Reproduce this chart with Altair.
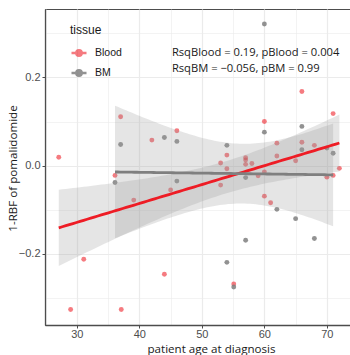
import numpy as np
import pandas as pd
import altair as alt

# ---- data ----
blood_age = [27.1, 29.0, 31.1, 36.1, 37.0, 37.1, 39.1, 42.0, 44.0, 45.0, 46.0, 53.0, 53.0,
             54.0, 54.0, 55.1, 57.0, 57.0, 57.0, 58.0, 59.0, 60.0, 60.0, 60.0, 61.0, 62.0,
             62.0, 65.0, 66.0, 66.0, 68.0, 70.0, 71.0, 71.0, 72.0]
blood_val = [0.019, -0.326, -0.212, -0.022, 0.111, -0.326, -0.078, 0.058, -0.246, -0.055,
             0.079, 0.006, -0.044, 0.024, -0.007, -0.268, 0.018, 0.013, 0.003, 0.005,
             -0.023, 0.100, -0.014, -0.069, -0.084, 0.051, 0.022, 0.011, 0.168, 0.053,
             0.046, -0.026, 0.118, -0.022, -0.006]
bm_age = [36.1, 37.0, 44.0, 46.0, 46.0, 54.0, 54.0, 55.1, 57.0, 57.0, 60.0, 60.0, 62.0,
          65.0, 66.0, 66.0, 68.0, 70.0, 71.0]
bm_val = [-0.038, 0.048, 0.064, 0.055, -0.035, 0.046, -0.219, -0.275, -0.027, -0.169,
          0.321, 0.076, -0.099, -0.120, 0.089, 0.036, -0.165, 0.040, 0.028]

tissues = ["Blood", "BM"]
line_colors = ["#EE1C25", "#7F7F7F"]
point_opacity = [0.58, 0.85]

ann_text = ["RsqBlood = 0.19, pBlood = 0.004", "RsqBM = \u22120.056, pBM = 0.99"]
ann_x = [45.2, 45.2]
ann_y = [0.255, 0.219]

x_ticks = [25, 30, 35, 40, 45, 50, 55, 60, 65, 70]
y_ticks = [-0.3, -0.2, -0.1, 0.0, 0.1, 0.2, 0.3]


def t_quantile(df, z=1.959964):
    return (z + (z**3 + z) / (4 * df) + (5 * z**5 + 16 * z**3 + 3 * z) / (96 * df**2)
            + (3 * z**7 + 19 * z**5 + 17 * z**3 - 15 * z) / (384 * df**3))


def lm_band(xs, ys, name, n=80):
    x = np.asarray(xs, float)
    y = np.asarray(ys, float)
    k = len(x)
    b, a = np.polyfit(x, y, 1)
    xg = np.linspace(x.min(), x.max(), n)
    yh = a + b * xg
    res = y - (a + b * x)
    s = np.sqrt(np.sum(res**2) / (k - 2))
    se = s * np.sqrt(1 / k + (xg - x.mean())**2 / np.sum((x - x.mean())**2))
    t = t_quantile(k - 2)
    return pd.DataFrame({"age": xg, "fit": yh, "lo": yh - t * se, "hi": yh + t * se,
                         "tissue": name})


pts = pd.concat([
    pd.DataFrame({"age": blood_age, "val": blood_val, "tissue": "Blood"}),
    pd.DataFrame({"age": bm_age, "val": bm_val, "tissue": "BM"}),
])
fits = pd.concat([lm_band(blood_age, blood_val, "Blood"), lm_band(bm_age, bm_val, "BM")])
ann = pd.DataFrame({"x": ann_x, "y": ann_y, "t": ann_text})

xscale = alt.Scale(domain=[24.9, 73.7], nice=False, zero=False)
yscale = alt.Scale(domain=[-0.361, 0.355], nice=False, zero=False)
cscale = alt.Scale(domain=tissues, range=line_colors)

major_x = "round(datum.value) % 10 == 0"
major_y = "abs(round(datum.value * 10)) % 2 == 0"

xaxis = alt.Axis(
    values=x_ticks, title="patient age at diagnosis",
    labelExpr=f"{major_x} ? datum.label : ''",
    tickOpacity={"condition": {"test": major_x, "value": 1}, "value": 0},
    gridWidth={"condition": {"test": major_x, "value": 1.2}, "value": 0.6},
    labelPadding=0,
    titleX=166, titleY=27, titleBaseline="alphabetic", titleAlign="center",
)
yaxis = alt.Axis(
    values=y_ticks, title="1-RBF of pomalidomide", format=".1f",
    labelExpr=f"{major_y} ? datum.label : ''",
    tickOpacity={"condition": {"test": major_y, "value": 1}, "value": 0},
    gridWidth={"condition": {"test": major_y, "value": 1.2}, "value": 0.6},
    titleX=-32, titleY=159, titleBaseline="middle", titleAlign="center", titleAngle=270,
)

legend = alt.Legend(
    orient="none", legendX=25, legendY=16, title="tissue", padding=0,
    titleFontSize=12, titleFont="Liberation Sans", titleFontWeight="normal",
    titleColor="#1A1A1A", titlePadding=7,
    labelFontSize=10.5, labelFont="Liberation Sans", labelColor="#1A1A1A", labelOffset=7,
    symbolType="M-1,0L1,0M0.35,0A0.35,0.35,0,1,1,-0.35,0A0.35,0.35,0,1,1,0.35,0Z",
    symbolSize=225, symbolStrokeWidth=2.6, symbolOpacity=1, rowPadding=3,
)

points = alt.Chart(pts).mark_circle(size=24).encode(
    x=alt.X("age:Q", scale=xscale, axis=xaxis),
    y=alt.Y("val:Q", scale=yscale, axis=yaxis),
    color=alt.Color("tissue:N", scale=cscale, legend=legend),
    opacity=alt.Opacity("tissue:N", scale=alt.Scale(domain=tissues, range=point_opacity),
                        legend=None),
)

bands = alt.Chart(fits).mark_area(color="#999999", opacity=0.26).encode(
    x=alt.X("age:Q", scale=xscale, axis=xaxis),
    y=alt.Y("lo:Q", scale=yscale, axis=yaxis),
    y2="hi:Q",
    detail="tissue:N",
)

lines = alt.Chart(fits).mark_line(strokeWidth=2.8).encode(
    x=alt.X("age:Q", scale=xscale, axis=xaxis),
    y=alt.Y("fit:Q", scale=yscale, axis=yaxis),
    color=alt.Color("tissue:N", scale=cscale, legend=legend),
)

text = alt.Chart(ann).mark_text(align="left", baseline="middle", font="Open Sans",
                                fontSize=11.2, color="#1A1A1A").encode(
    x=alt.X("x:Q", scale=xscale, axis=xaxis),
    y=alt.Y("y:Q", scale=yscale, axis=yaxis),
    text="t:N",
)

chart = alt.layer(points, bands, lines, text).properties(
    width=305, height=316,
    padding={"left": 45, "top": 9, "right": 0, "bottom": 30},
    autosize=alt.AutoSizeParams(type="none"),
).configure_view(
    stroke="#4D4D4D", strokeWidth=1,
).configure_axis(
    gridColor="#EBEBEB", domainColor="#4D4D4D", domainWidth=1.3,
    tickColor="#4D4D4D", tickSize=3, labelPadding=2,
    labelFont="Liberation Sans", labelFontSize=11, labelColor="#4D4D4D",
    titleFont="Open Sans", titleFontSize=11.6, titleFontWeight="normal", titleColor="#1A1A1A",
)

chart.save("out.html", embed_options={"renderer": "svg", "actions": False})
